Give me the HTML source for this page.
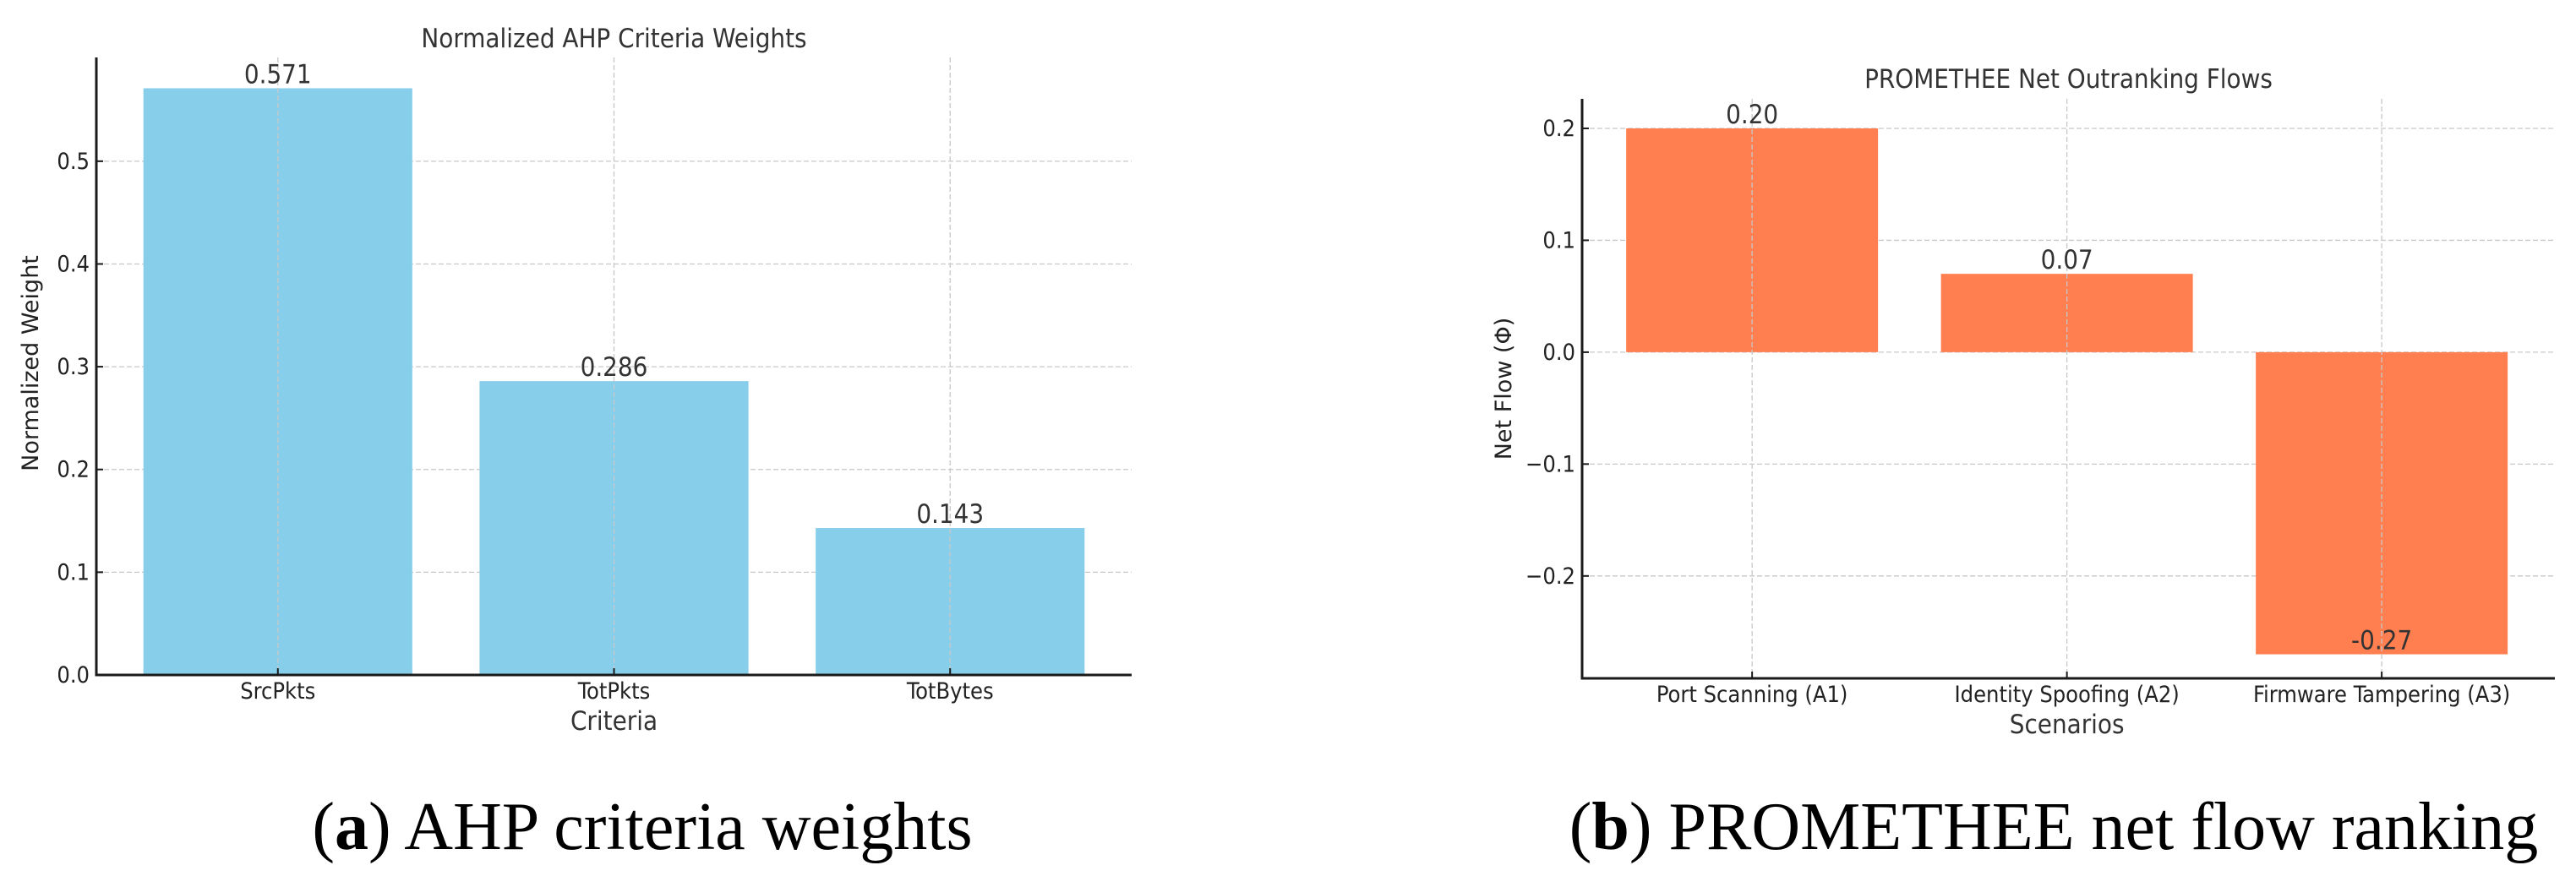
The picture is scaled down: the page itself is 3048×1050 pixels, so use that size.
<!DOCTYPE html>
<html><head><meta charset="utf-8">
<style>
html,body{margin:0;padding:0;background:#fff;}
body{width:3048px;height:1050px;overflow:hidden;position:relative;}
svg{position:absolute;left:0;top:0;}
.tk{font-family:"DejaVu Sans Condensed","DejaVu Sans","Liberation Sans",sans-serif;font-size:27px;fill:#222;}
.ttl{font-family:"DejaVu Sans Condensed","DejaVu Sans","Liberation Sans",sans-serif;font-size:31px;fill:#333;}
.val{font-family:"DejaVu Sans Condensed","DejaVu Sans","Liberation Sans",sans-serif;font-size:31px;fill:#333;}
.yl{font-family:"DejaVu Sans","Liberation Sans",sans-serif;font-size:27px;fill:#222;}
.cap{font-family:"Liberation Serif",serif;font-size:80px;fill:#000;}
</style></head>
<body>
<svg id="chart" width="3048" height="1050" xmlns="http://www.w3.org/2000/svg"></svg>
<script>
const ahpCategories = ["SrcPkts","TotPkts","TotBytes"];
const ahpValues = [0.571,0.286,0.143];
const ahpLabels = ["0.571","0.286","0.143"];
const ahpTicks = [0,0.1,0.2,0.3,0.4,0.5];
const ahpTickLabels = ["0.0","0.1","0.2","0.3","0.4","0.5"];
const promCategories = ["Port Scanning (A1)","Identity Spoofing (A2)","Firmware Tampering (A3)"];
const promValues = [0.20,0.07,-0.27];
const promLabels = ["0.20","0.07","-0.27"];
const promTicks = [-0.2,-0.1,0,0.1,0.2];
const promTickLabels = ["\u22120.2","\u22120.1","0.0","0.1","0.2"];

const NS="http://www.w3.org/2000/svg";
const svg=document.getElementById('chart');
function mk(tag,attrs,parent){const e=document.createElementNS(NS,tag);for(const k in attrs)e.setAttribute(k,attrs[k]);(parent||svg).appendChild(e);return e;}

function drawChart(o){
  const g=mk('g',{});
  
  
  const n=o.cats.length;
  const xs=i=>o.x0+(i-o.xmin)/(o.xmax-o.xmin)*(o.x1-o.x0);
  const ys=v=>o.y1-(v-o.ymin)/(o.ymax-o.ymin)*(o.y1-o.y0);
  // grid
  o.ticks.forEach((t,i)=>{
    const y=ys(t);
    const gl=mk('line',{x1:o.x0,x2:o.x1,y1:y,y2:y,stroke:'#c8c8c8','stroke-width':1.3,'stroke-dasharray':'6 3'},g);
    
    
  });
  // bars
  o.vals.forEach((v,i)=>{
    const cx=xs(i), w=0.8*(xs(1)-xs(0));
    const top=ys(Math.max(v,0)), bot=ys(Math.min(v,0));
    const r=mk('rect',{x:cx-w/2,y:top,width:w,height:bot-top,fill:o.color},g);
    
    
  });
  // vertical grid
  o.cats.forEach((c,i)=>{
    const x=xs(i);
    const gl=mk('line',{x1:x,x2:x,y1:o.y0,y2:o.y1,stroke:'#c8c8c8','stroke-width':1.3,'stroke-dasharray':'6 3'},g);
    
    
  });
  // value labels
  o.vals.forEach((v,i)=>{
    const t=mk('text',{x:xs(i),y:ys(v)-6,'text-anchor':'middle',class:'val'},g);
    t.textContent=o.labels[i];
    
    
  });
  // axes
  const ax=mk('path',{d:`M${o.x0},${o.y0} L${o.x0},${o.y1} L${o.x1},${o.y1}`,fill:'none',stroke:'#1a1a1a','stroke-width':3},g);
  
  
  o.ticks.forEach((t,i)=>{
    const y=ys(t);
    mk('line',{x1:o.x0,x2:o.x0+8,y1:y,y2:y,stroke:'#1a1a1a','stroke-width':2},g);
    const tl=mk('text',{x:o.x0-8,y:y+9,'text-anchor':'end',class:'tk'},g);
    tl.textContent=o.tickLabels[i];
    
    
  });
  o.cats.forEach((c,i)=>{
    const x=xs(i);
    mk('line',{x1:x,x2:x,y1:o.y1,y2:o.y1-8,stroke:'#1a1a1a','stroke-width':2},g);
    const tl=mk('text',{x:x,y:o.y1+28,'text-anchor':'middle',class:'tk'},g);
    tl.textContent=c;
    
    
  });
  const cx=(o.x0+o.x1)/2;
  const tt=mk('text',{x:cx,y:o.titleY,'text-anchor':'middle',class:'ttl'},g);
  tt.textContent=o.title;
  
  
  const xl=mk('text',{x:xs(1),y:o.y1+65,'text-anchor':'middle',class:'ttl'},g);
  xl.textContent=o.xlabel;
  
  
  const ym=(o.y0+o.y1)/2;
  const yl=mk('text',{x:o.ylX,y:o.ylY,'text-anchor':'middle',class:'yl',transform:`rotate(-90 ${o.ylX} ${o.ylY})`},g);
  yl.textContent=o.ylabel;
  
  
  const cp=mk('text',{x:o.capX,y:1005,'text-anchor':'middle',class:'cap'},g);
  cp.innerHTML=o.cap;
  
  
}

drawChart({name:'ahp-chart',cats:ahpCategories,vals:ahpValues,labels:ahpLabels,ticks:ahpTicks,tickLabels:ahpTickLabels,
  x0:114,x1:1339,xmin:-0.54,xmax:2.54,y0:68,y1:799,ymin:0,ymax:0.601,color:'#87CEEB',
  title:'Normalized AHP Criteria Weights',titleY:56,xlabel:'Criteria',ylabel:'Normalized Weight',ylX:45,ylY:430,
  capX:760,cap:'(<tspan font-weight="bold">a</tspan>) AHP criteria weights'});
drawChart({name:'promethee-chart',cats:promCategories,vals:promValues,labels:promLabels,ticks:promTicks,tickLabels:promTickLabels,
  x0:1872,x1:3023,xmin:-0.54,xmax:2.55,y0:117,y1:803,ymin:-0.2915,ymax:0.2264,color:'#FF7F50',
  title:'PROMETHEE Net Outranking Flows',titleY:104,xlabel:'Scenarios',ylabel:'Net Flow (\u03A6)',ylX:1788,ylY:460,
  capX:2430,cap:'(<tspan font-weight="bold">b</tspan>) PROMETHEE net flow ranking'});
</script>
</body></html>
